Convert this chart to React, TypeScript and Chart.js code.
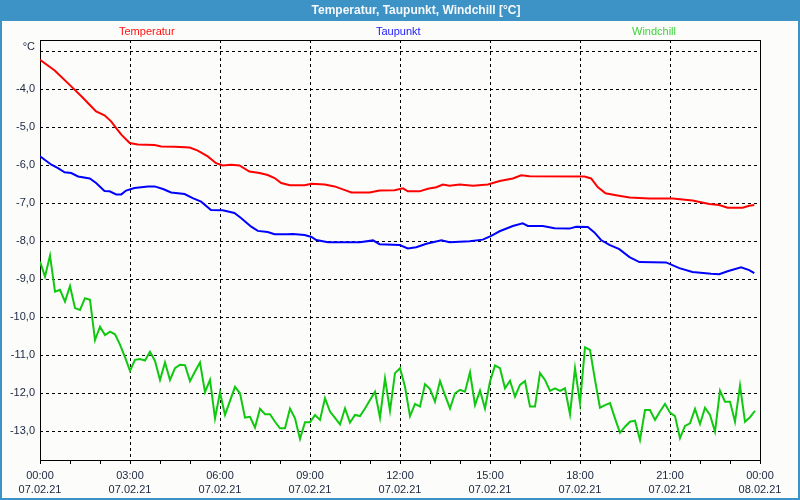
import React, { useEffect, useRef } from "react";
import { Chart, registerables } from "chart.js";

Chart.register(...registerables);

// ---------- text ----------
const TITLE = "Temperatur, Taupunkt, Windchill [°C]";
const SERIES_NAMES = ["Temperatur", "Taupunkt", "Windchill"];
const Y_UNIT = "°C";

// ---------- x axis ticks (hours since 07.02.21 00:00) ----------
const xTickHours = [0, 3, 6, 9, 12, 15, 18, 21, 24];
const xTickTimes = ["00:00", "03:00", "06:00", "09:00", "12:00", "15:00", "18:00", "21:00", "00:00"];
const xTickDates = ["07.02.21", "07.02.21", "07.02.21", "07.02.21", "07.02.21", "07.02.21", "07.02.21", "07.02.21", "08.02.21"];
const yTickValues = [-13, -12, -11, -10, -9, -8, -7, -6, -5, -4, -3];
const yMin = -13.755;
const yMax = -2.71;

// ---------- Temperatur ----------
const tempHours = [
  0, 0.49, 1.04, 1.38, 1.71, 1.87, 2.15, 2.37, 2.54, 2.71, 2.99, 3.26, 3.82, 4.04, 4.49, 4.99,
  5.26, 5.59, 5.87, 6.09, 6.37, 6.65, 6.98, 7.32, 7.59, 7.82, 8.04, 8.33, 8.82, 9.05, 9.49,
  9.82, 10.21, 10.38, 10.99, 11.32, 11.82, 12.1, 12.26, 12.65, 12.93, 13.21, 13.43, 13.65,
  13.99, 14.43, 14.93, 15.32, 15.76, 16.04, 16.32, 18.15, 18.37, 18.59, 18.85, 19.2, 19.65,
  20.31, 21.09, 21.75, 22.31, 22.64, 22.92, 23.42, 23.64, 23.81,
];
const tempValues = [
  -3.23, -3.51, -3.93, -4.19, -4.46, -4.59, -4.69, -4.85, -5.03, -5.2, -5.42, -5.46, -5.47,
  -5.51, -5.52, -5.54, -5.62, -5.77, -5.95, -6.01, -5.99, -6.01, -6.17, -6.21, -6.26, -6.34,
  -6.47, -6.53, -6.53, -6.49, -6.51, -6.56, -6.67, -6.72, -6.72, -6.67, -6.66, -6.61, -6.69,
  -6.69, -6.62, -6.58, -6.51, -6.54, -6.51, -6.54, -6.51, -6.42, -6.35, -6.27, -6.29, -6.3,
  -6.35, -6.58, -6.74, -6.79, -6.85, -6.88, -6.88, -6.93, -7.02, -7.05, -7.12, -7.12, -7.07,
  -7.05,
];

// ---------- Taupunkt ----------
const dewHours = [
  0, 0.38, 0.6, 0.82, 1.04, 1.27, 1.66, 1.87, 2.15, 2.32, 2.54, 2.71, 2.87, 3.15, 3.6, 3.82,
  4.1, 4.37, 4.82, 5.09, 5.37, 5.7, 6.09, 6.48, 6.7, 7.04, 7.26, 7.59, 7.82, 8.24, 8.43, 8.82,
  9.05, 9.21, 9.6, 10.66, 11.1, 11.32, 11.99, 12.26, 12.54, 12.88, 13.38, 13.65, 14.32, 14.76,
  15.04, 15.32, 15.76, 16.09, 16.26, 16.76, 17.15, 17.65, 17.87, 18.26, 18.48, 18.7, 18.98,
  19.31, 19.65, 19.98, 20.87, 21.31, 21.75, 22.37, 22.64, 22.92, 23.37, 23.64, 23.81,
];
const dewValues = [
  -5.77, -5.99, -6.08, -6.19, -6.21, -6.3, -6.35, -6.47, -6.68, -6.69, -6.77, -6.77, -6.67,
  -6.6, -6.56, -6.56, -6.63, -6.72, -6.76, -6.87, -6.96, -7.18, -7.19, -7.26, -7.39, -7.62,
  -7.73, -7.76, -7.82, -7.82, -7.81, -7.84, -7.89, -7.97, -8.03, -8.03, -7.98, -8.08, -8.1,
  -8.19, -8.16, -8.07, -7.98, -8.03, -8.0, -7.96, -7.86, -7.74, -7.6, -7.53, -7.6, -7.6,
  -7.66, -7.67, -7.62, -7.63, -7.77, -7.97, -8.1, -8.21, -8.42, -8.55, -8.56, -8.71, -8.81,
  -8.86, -8.87, -8.79, -8.69, -8.76, -8.84,
];

// ---------- Windchill (one value every 10 minutes from 00:00) ----------
const windchillStepMinutes = 10;
const windchillValues = [
  -8.54, -8.93, -8.38, -9.33, -9.28, -9.59, -9.18, -9.76, -9.81, -9.5, -9.54, -10.6, -10.25,
  -10.47, -10.38, -10.45, -10.72, -11.05, -11.41, -11.12, -11.1, -11.14, -10.91, -11.15,
  -11.65, -11.19, -11.65, -11.34, -11.25, -11.26, -11.68, -11.43, -11.19, -11.97, -11.65,
  -12.66, -11.98, -12.57, -12.2, -11.83, -12.0, -12.64, -12.62, -12.9, -12.41, -12.55,
  -12.55, -12.75, -12.92, -12.92, -12.4, -12.66, -13.2, -12.76, -12.76, -12.57, -12.7,
  -12.13, -12.48, -12.65, -12.82, -12.4, -12.77, -12.57, -12.6, -12.4, -12.18, -11.96,
  -12.64, -11.61, -12.46, -11.47, -11.34, -11.83, -12.6, -12.28, -12.35, -11.76, -11.89,
  -12.22, -11.68, -12.05, -12.4, -12.0, -11.91, -11.96, -11.45, -12.31, -11.93, -12.4,
  -11.69, -11.27, -11.34, -11.87, -11.67, -12.09, -11.78, -11.68, -12.35, -12.35, -11.47,
  -11.65, -11.94, -11.87, -11.94, -11.87, -12.55, -11.34, -12.26, -10.79, -10.86, -11.65,
  -12.38, -12.31, -12.26, -12.66, -13.04, -12.88, -12.75, -12.72, -13.23, -12.44, -12.44,
  -12.7, -12.48, -12.28, -12.51, -12.6, -13.18, -12.86, -12.79, -12.41, -12.81, -12.38,
  -12.57, -13.01, -11.93, -12.22, -12.22, -12.75, -11.8, -12.75, -12.63, -12.46,
];

// ---------- styles ----------
const FRAME_BLUE = "#3d93c5";
const PLOT_BG = "#fcfdfa";
const TEXT_COLOR = "#1a2440";
const LINE_COLORS = ["#ff0000", "#0000ff", "#11c811"];
const LEGEND_COLORS = ["#ff1010", "#1a1aff", "#3cd23c"];
const LEGEND_X = [119, 376, 632];
const FONT = "'Liberation Sans', Arial, sans-serif";

const framePlugin = {
  id: "frame",
  beforeDraw(chart: any) {
    const { ctx, width, height } = chart;
    ctx.save();
    ctx.fillStyle = FRAME_BLUE;
    ctx.fillRect(0, 0, width, height);
    ctx.fillStyle = PLOT_BG;
    ctx.fillRect(2, 21, width - 4, height - 23);
    ctx.fillStyle = "#f6f9fc";
    ctx.font = `bold 12px ${FONT}`;
    ctx.textAlign = "center";
    ctx.textBaseline = "middle";
    ctx.fillText(TITLE, 416, 10.5);
    ctx.font = `11px ${FONT}`;
    ctx.textAlign = "left";
    SERIES_NAMES.forEach((name, i) => {
      ctx.fillStyle = LEGEND_COLORS[i];
      ctx.fillText(name, LEGEND_X[i], 32);
    });
    ctx.restore();
  },
  beforeDatasetsDraw(chart: any) {
    const { ctx, chartArea, scales } = chart;
    ctx.save();
    ctx.strokeStyle = "#000";
    ctx.lineWidth = 1;
    ctx.setLineDash([]);
    ctx.strokeRect(
      Math.round(chartArea.left) + 0.5,
      Math.round(chartArea.top) + 0.5,
      Math.round(chartArea.right - chartArea.left),
      Math.round(chartArea.bottom - chartArea.top)
    );
    const yTop = scales.y.getPixelForValue(yTickValues[yTickValues.length - 1]);
    ctx.fillStyle = TEXT_COLOR;
    ctx.font = `11px ${FONT}`;
    ctx.textAlign = "right";
    ctx.textBaseline = "middle";
    ctx.fillText(Y_UNIT, chartArea.left - 5, yTop - 4);
    ctx.restore();
  },
};

export default function App() {
  const canvasRef = useRef<HTMLCanvasElement | null>(null);

  useEffect(() => {
    const canvas = canvasRef.current;
    if (!canvas) return;

    const hourTicks: number[] = [];
    for (let h = xTickHours[0]; h <= xTickHours[xTickHours.length - 1]; h++) hourTicks.push(h);

    const chart = new Chart(canvas, {
      type: "line",
      data: {
        datasets: [
          {
            label: SERIES_NAMES[2],
            data: windchillValues.map((v, i) => ({ x: (i * windchillStepMinutes) / 60, y: v })),
            borderColor: LINE_COLORS[2],
          },
          {
            label: SERIES_NAMES[1],
            data: dewValues.map((v, i) => ({ x: dewHours[i], y: v })),
            borderColor: LINE_COLORS[1],
          },
          {
            label: SERIES_NAMES[0],
            data: tempValues.map((v, i) => ({ x: tempHours[i], y: v })),
            borderColor: LINE_COLORS[0],
          },
        ],
      },
      options: {
        responsive: false,
        animation: false,
        events: [],
        layout: { padding: { left: 0, right: 40, top: 40, bottom: 0 } },
        elements: {
          point: { radius: 0 },
          line: { borderWidth: 2, tension: 0, fill: false },
        },
        plugins: {
          legend: { display: false },
          title: { display: false },
          tooltip: { enabled: false },
        },
        scales: {
          x: {
            type: "linear",
            min: xTickHours[0],
            max: xTickHours[xTickHours.length - 1],
            afterBuildTicks: (s: any) => {
              s.ticks = hourTicks.map((v) => ({ value: v }));
            },
            afterFit: (s: any) => {
              s.height = 40;
            },
            grid: {
              color: (c: any) =>
                c.tick && xTickHours.includes(c.tick.value) ? "#000" : "rgba(0,0,0,0)",
              tickColor: "#000",
              tickLength: 4,
              lineWidth: 1,
            },
            border: { display: false, dash: [3, 3] },
            ticks: {
              autoSkip: false,
              maxRotation: 0,
              minRotation: 0,
              padding: 5,
              color: TEXT_COLOR,
              font: { family: FONT, size: 11, lineHeight: "14px" },
              callback: (v: any) => {
                const i = xTickHours.indexOf(Number(v));
                return i >= 0 ? [xTickTimes[i], xTickDates[i]] : "";
              },
            },
          },
          y: {
            type: "linear",
            min: yMin,
            max: yMax,
            afterBuildTicks: (s: any) => {
              s.ticks = yTickValues.map((v) => ({ value: v }));
            },
            afterFit: (s: any) => {
              s.width = 40;
            },
            grid: { color: "#000", lineWidth: 1, drawTicks: false },
            border: { display: false, dash: [3, 3] },
            ticks: {
              padding: 5,
              color: TEXT_COLOR,
              font: { family: FONT, size: 11 },
              callback: (v: any) => {
                const n = Number(v);
                if (n === yTickValues[yTickValues.length - 1]) return "";
                return n.toFixed(1).replace(".", ",");
              },
            },
          },
        },
      },
      plugins: [framePlugin],
    } as any);

    return () => chart.destroy();
  }, []);

  return (
    <div style={{ position: "absolute", left: 0, top: 0, width: 800, height: 500 }}>
      <canvas ref={canvasRef} width={800} height={500} style={{ display: "block" }} />
    </div>
  );
}
